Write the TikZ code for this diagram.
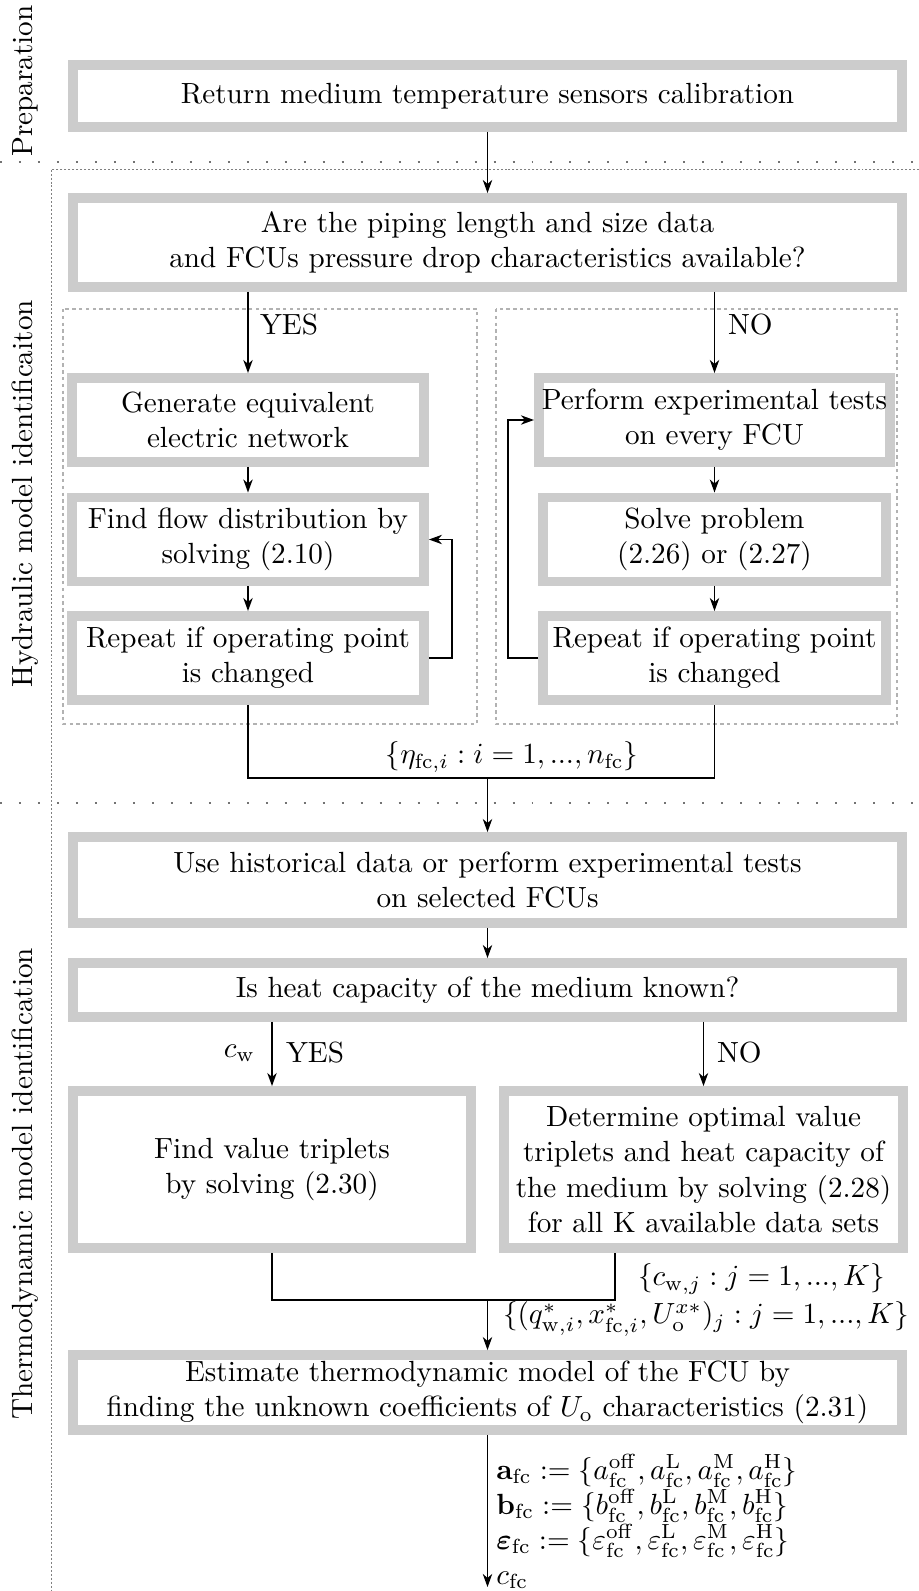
\RequirePackage{fix-cm}
\documentclass[tikz,border=0pt]{standalone}
\usepackage{amsmath}
\usetikzlibrary{arrows.meta}

\tikzset{
    block/.style={draw=black!20, line width=3.5pt, fill=white, align=center, inner xsep=1pt, inner ysep=2pt},
    widebox/.style={block, minimum width=10.28cm},
    leftbox/.style={block, minimum width=4.365cm, minimum height=1.042cm},
    rightbox/.style={block, minimum width=4.253cm, minimum height=1.042cm},
    arr/.style={->, semithick},
    link/.style={semithick},
    sepline/.style={black!55, line width=0.7pt, dash pattern=on 0.7pt off 6pt},
    frameline/.style={black!50, line width=0.35pt, dash pattern=on 0.7pt off 0.7pt},
    subframe/.style={black!30, line width=0.4pt, dash pattern=on 1.2pt off 1.2pt}
}

\begin{document}
\begin{tikzpicture}[x=0.0124cm, y=-0.0124cm, font=\fontsize{10.3}{12.4}\selectfont,
    >={Stealth[length=4.6pt, width=3.3pt, inset=1.4pt]}]
    \useasboundingbox (0,0) rectangle (919,1591);

    % 分区线
    \draw[sepline] (0,162) -- (919,162);
    \draw[sepline] (0,803) -- (919,803);
    \draw[frameline] (919,169) -- (51,169) -- (51,1591);
    \draw[subframe] (63,309) rectangle (477,724);
    \draw[subframe] (496,309) rectangle (897,724);

    % 分区标题
    \node[rotate=90] (prep) at (25,81) {Preparation};
    \node[rotate=90] (hydr) at (25,494) {Hydraulic model identificaiton};
    \node[rotate=90] (thermo) at (25,1184) {Thermodynamic model identification};

    % 方框
    \node[widebox, minimum height=0.769cm] (ret) at (487.5,96) {Return medium temperature sensors calibration};
    \node[widebox, minimum height=1.104cm] (avail) at (487.5,242.5) {Are the piping length and size data\\and FCUs pressure drop characteristics available?};
    \node[leftbox] (gen) at (248,420) {Generate equivalent\\electric network};
    \node[leftbox] (flow) at (248,539.5) {Find flow distribution by\\solving (2.10)};
    \node[leftbox] (replft) at (248,658) {Repeat if operating point\\is changed};
    \node[rightbox] (tests) at (714.5,420) {Perform experimental tests\\on every FCU};
    \node[rightbox] (solve) at (714.5,539.5) {Solve problem\\(2.26) or (2.27)};
    \node[rightbox] (reprgt) at (714.5,658) {Repeat if operating point\\is changed};
    \node[widebox, minimum height=1.066cm] (hist) at (487.5,880) {Use historical data or perform experimental tests\\on selected FCUs};
    \node[widebox, minimum height=0.67cm] (heat) at (487.5,990) {Is heat capacity of the medium known?};
    \node[block, minimum width=4.935cm, minimum height=1.947cm] (triplet) at (272,1169.5) {Find value triplets\\by solving (2.30)};
    \node[block, minimum width=4.948cm, minimum height=1.947cm] (optim) at (703.5,1169.5) {Determine optimal value\\triplets and heat capacity of\\the medium by solving (2.28)\\for all K available data sets};
    \node[widebox, minimum height=0.93cm] (estim) at (487.5,1392.5) {Estimate thermodynamic model of the FCU by\\finding the unknown coefficients of $U_{\mathrm{o}}$ characteristics (2.31)};

    % 水力部分
    \draw[arr] (ret) -- (avail);
    \draw[arr] (avail.south -| gen) -- (gen);
    \draw[arr] (avail.south -| tests) -- (tests);
    \node[anchor=west] (yes1) at (250,325) {YES};
    \node[anchor=west] (no1) at (718,325) {NO};
    \draw[arr] (gen) -- (flow);
    \draw[arr] (flow) -- (replft);
    \draw[arr] (replft.east) -- ++(23,0) |- (flow.east);
    \draw[arr] (tests) -- (solve);
    \draw[arr] (solve) -- (reprgt);
    \draw[arr] (reprgt.west) -- ++(-30,0) |- (tests.west);

    \coordinate (join1) at (487.5,778);
    \draw[link] (replft.south) |- (join1) -| (reprgt.south);
    \draw[arr] (join1) -- (hist);
    \node (eta) at (512,757) {$\{\eta_{\mathrm{fc},i} : i=1,...,n_{\mathrm{fc}}\}$};

    % 热力部分
    \draw[arr] (hist) -- (heat);
    \draw[arr] (heat.south -| triplet) -- (triplet);
    \node[anchor=east] (cw) at (265,1053) {$c_{\mathrm{w}}$};
    \node[anchor=west] (yes2) at (276,1053) {YES};
    \draw[arr] (heat.south -| optim) -- (optim);
    \node[anchor=west] (no2) at (707,1053) {NO};

    \coordinate (join2) at (487.5,1300);
    \coordinate (turn2) at (615,1300);
    \draw[link] (triplet.south) |- (turn2) -- (turn2 |- optim.south);
    \draw[arr] (join2) -- (estim);
    \node[anchor=west] (cwset) at (628,1279) {$\{c_{\mathrm{w},j} : j=1,...,K\}$};
    \node[anchor=west] (qset) at (493,1319) {$\{(q^{*}_{\mathrm{w},i}, x^{*}_{\mathrm{fc},i}, U^{x*}_{\mathrm{o}})_j : j=1,...,K\}$};

    % 输出
    \coordinate (outp) at (487.5,1587);
    \draw[arr] (estim) -- (outp);
    \node[anchor=north west, align=left, inner sep=1pt] (coef) at (493,1451) {$\mathbf{a}_{\mathrm{fc}} := \{a^{\mathrm{off}}_{\mathrm{fc}}, a^{\mathrm{L}}_{\mathrm{fc}}, a^{\mathrm{M}}_{\mathrm{fc}}, a^{\mathrm{H}}_{\mathrm{fc}}\}$\\
        $\mathbf{b}_{\mathrm{fc}} := \{b^{\mathrm{off}}_{\mathrm{fc}}, b^{\mathrm{L}}_{\mathrm{fc}}, b^{\mathrm{M}}_{\mathrm{fc}}, b^{\mathrm{H}}_{\mathrm{fc}}\}$\\
        $\boldsymbol{\varepsilon}_{\mathrm{fc}} := \{\varepsilon^{\mathrm{off}}_{\mathrm{fc}}, \varepsilon^{\mathrm{L}}_{\mathrm{fc}}, \varepsilon^{\mathrm{M}}_{\mathrm{fc}}, \varepsilon^{\mathrm{H}}_{\mathrm{fc}}\}$\\
        $c_{\mathrm{fc}}$};
\end{tikzpicture}
\end{document}
